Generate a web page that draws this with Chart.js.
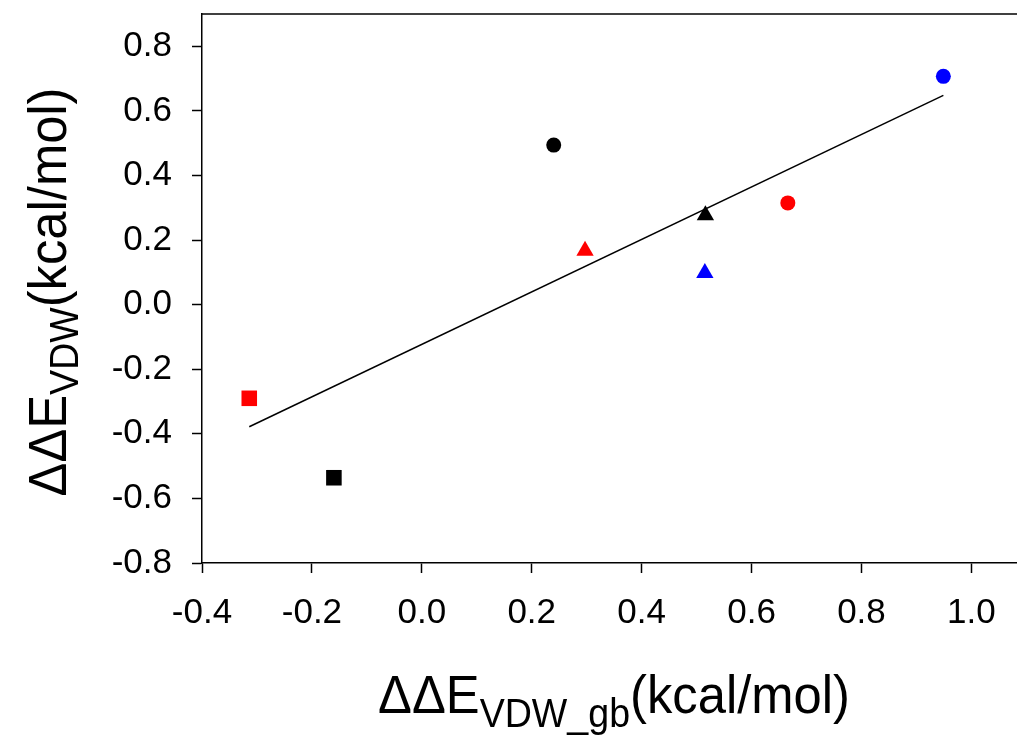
<!DOCTYPE html>
<html>
<head>
<meta charset="utf-8">
<script src="https://cdn.jsdelivr.net/npm/chart.js@4.4.0/dist/chart.umd.min.js"></script>
<style>
  html, body { margin: 0; padding: 0; background: #fff; }
  canvas { display: block; }
</style>
</head>
<body>
<canvas id="myChart" width="1017" height="738"></canvas>
<script>
'use strict';

// values (kcal/mol)
let gbValues = [-0.160, -0.314, 0.240, 0.297, 0.515, 0.516, 0.666, 0.949];
let vdwValues = [-0.536, -0.290, 0.494, 0.167, 0.098, 0.277, 0.315, 0.707];
let pointColors = ['#000000', '#ff0000', '#000000', '#ff0000', '#0000ff', '#000000', '#ff0000', '#0000ff'];
let pointShapes = ['rect', 'rect', 'circle', 'triangle', 'triangle', 'triangle', 'circle', 'circle'];

// regression line ends
let fitX = [-0.314, 0.949];
let fitY = [-0.378, 0.648];

// axes
let xMin = -0.4;
let xMax = 1.083;
let yMin = -0.8;
let yMax = 0.9;
let tickStep = 0.2;

let fontName = "'Liberation Sans', Arial, sans-serif";

// size for each marker shape
function shapeRadius(shape) {
    if (shape === 'rect') return 11;
    if (shape === 'triangle') return 10;
    return 7.5;
}

let points = [];
for (let i = 0; i < gbValues.length; i++) {
    points.push({ x: gbValues[i], y: vdwValues[i] });
}

let linePoints = [];
for (let i = 0; i < fitX.length; i++) {
    linePoints.push({ x: fitX[i], y: fitY[i] });
}

// draws "ΔΔE" + subscript + "(kcal/mol)" stretched to a given length
function drawTitle(ctx, parts, cx, cy, angle, length, bigSize, smallSize, drop) {
    ctx.save();
    ctx.translate(cx, cy);
    ctx.rotate(angle);
    let widths = [];
    let total = 0;
    for (let i = 0; i < parts.length; i++) {
        let size = parts[i].small ? smallSize : bigSize;
        ctx.font = size + 'px ' + fontName;
        let w = ctx.measureText(parts[i].text).width;
        widths.push(w);
        total += w;
    }
    ctx.scale(length / total, 1);
    ctx.fillStyle = '#000';
    ctx.textBaseline = 'alphabetic';
    ctx.textAlign = 'left';
    let x = -total / 2;
    for (let i = 0; i < parts.length; i++) {
        let size = parts[i].small ? smallSize : bigSize;
        ctx.font = size + 'px ' + fontName;
        ctx.fillText(parts[i].text, x, parts[i].small ? drop : 0);
        x += widths[i];
    }
    ctx.restore();
}

let xTitle = [{ text: 'ΔΔE' }, { text: 'VDW_gb', small: true }, { text: '(kcal/mol)' }];
let yTitle = [{ text: 'ΔΔE' }, { text: 'VDW', small: true }, { text: '(kcal/mol)' }];

let titlePlugin = {
    id: 'titles',
    afterDraw(chart) {
        let ctx = chart.ctx;
        let area = chart.chartArea;
        // top frame line
        ctx.save();
        ctx.strokeStyle = '#000';
        ctx.lineWidth = 1.5;
        ctx.beginPath();
        ctx.moveTo(area.left, area.top);
        ctx.lineTo(chart.width, area.top);
        ctx.stroke();
        ctx.restore();

        drawTitle(ctx, xTitle, 614, 713, 0, 472, 54, 40, 14);
        drawTitle(ctx, yTitle, 66, 292, -Math.PI / 2, 409, 54, 40, 12);
    }
};

function chartRender() {
    let ctx = document.getElementById('myChart').getContext('2d');
    let myChart = new Chart(ctx, {
        type: 'scatter',
        data: {
            datasets: [{
                data: points,
                pointStyle: pointShapes,
                pointRadius: pointShapes.map(shapeRadius),
                pointBackgroundColor: pointColors,
                pointBorderColor: pointColors,
                pointBorderWidth: 0,
                order: 1
            }, {
                data: linePoints,
                showLine: true,
                borderColor: '#000',
                borderWidth: 1.5,
                pointRadius: 0,
                order: 2
            }]
        },
        options: {
            responsive: false,
            animation: false,
            layout: { autoPadding: false, padding: { top: 14, left: 0, right: 0, bottom: 0 } },
            plugins: {
                legend: { display: false },
                tooltip: { enabled: false }
            },
            scales: {
                x: {
                    type: 'linear',
                    min: xMin,
                    max: xMax,
                    afterFit(scale) {
                        scale.height = 175;
                        scale.paddingLeft = 0;
                        scale.paddingRight = 0;
                    },
                    border: { display: true, color: '#000', width: 1.5 },
                    grid: {
                        drawOnChartArea: false,
                        drawTicks: true,
                        tickLength: 10,
                        tickColor: '#000',
                        tickWidth: 1.5
                    },
                    ticks: {
                        stepSize: tickStep,
                        includeBounds: false,
                        padding: 19,
                        color: '#000',
                        maxRotation: 0,
                        font: { family: fontName, size: 35 },
                        callback: function (v) { return Number(v).toFixed(1); }
                    }
                },
                y: {
                    type: 'linear',
                    min: yMin,
                    max: yMax,
                    afterFit(scale) {
                        scale.width = 202;
                        scale.paddingTop = 0;
                        scale.paddingBottom = 0;
                    },
                    border: { display: true, color: '#000', width: 1.5 },
                    grid: {
                        drawOnChartArea: false,
                        drawTicks: true,
                        tickLength: 10,
                        tickColor: '#000',
                        tickWidth: 1.5
                    },
                    ticks: {
                        stepSize: tickStep,
                        includeBounds: false,
                        padding: 20,
                        color: '#000',
                        font: { family: fontName, size: 35 },
                        callback: function (v) { return Number(v).toFixed(1); }
                    }
                }
            }
        },
        plugins: [titlePlugin]
    });
}

chartRender();
</script>
</body>
</html>
